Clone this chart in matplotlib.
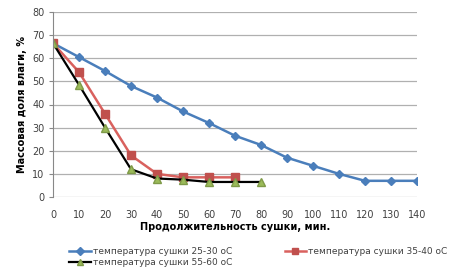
import matplotlib.pyplot as plt

# Данные
x_blue = [0, 10, 20, 30, 40, 50, 60, 70, 80, 90, 100, 110, 120, 130, 140]
y_blue = [66.5, 60.5, 54.5, 48, 43, 37, 32, 26.5, 22.5, 17, 13.5, 10, 7, 7, 7]
x_red = [0, 10, 20, 30, 40, 50, 60, 70]
y_red = [66.5, 54, 36, 18, 10, 8.5, 8.5, 8.5]
x_green = [0, 10, 20, 30, 40, 50, 60, 70, 80]
y_green = [66.5, 48.5, 30, 12, 8, 7.5, 6.5, 6.5, 6.5]
labels = ['температура сушки 25-30 оС', 'температура сушки 35-40 оС',
          'температура сушки 55-60 оС']

fig = plt.figure(figsize=(4.71, 2.74), dpi=100)
ax = fig.add_axes([53 / 471, 77 / 274, 364 / 471, 185 / 274])

l1, = ax.plot(x_blue, y_blue, color='#4a7ebb', lw=1.8, marker='D', ms=4.5,
              mfc='#4a7ebb', mec='#4a7ebb')
l2, = ax.plot(x_red, y_red, color='#d9615e', lw=1.8, marker='s', ms=6,
              mfc='#c0504d', mec='#c0504d')
l3, = ax.plot(x_green, y_green, color='black', lw=1.6, marker='^', ms=6,
              mfc='#9bbb59', mec='#7f9a48')

ax.set_xlim(0, 140)
ax.set_ylim(0, 80)
ax.set_xticks(range(0, 141, 10))
ax.set_yticks(range(0, 81, 10))
ax.tick_params(labelsize=7, colors='#404040', length=0, pad=9)
ax.tick_params(axis='y', length=3, color='#888888', pad=3)
ax.grid(axis='y', color='#b0b0b0', lw=0.9)
ax.set_axisbelow(True)
for s in ['top', 'right', 'bottom']:
    ax.spines[s].set_visible(False)
ax.spines['left'].set_color('#888888')

ax.set_xlabel('Продолжительность сушки, мин.', fontsize=7, fontweight='bold',
              labelpad=2)
ax.set_ylabel('Массовая доля влаги, %', fontsize=7, fontweight='bold',
              labelpad=4)

# порядок для заполнения по столбцам: синий, чёрный | красный
fig.legend([l1, l3, l2], [labels[0], labels[2], labels[1]], loc='lower left',
           ncol=2, bbox_to_anchor=(0.13, -0.005), frameon=False, fontsize=6.5,
           handlelength=2.4, columnspacing=5.8, labelspacing=0.25,
           handletextpad=0.2, markerscale=0.8, labelcolor='#404040')

fig.savefig('out.png', dpi=100)
